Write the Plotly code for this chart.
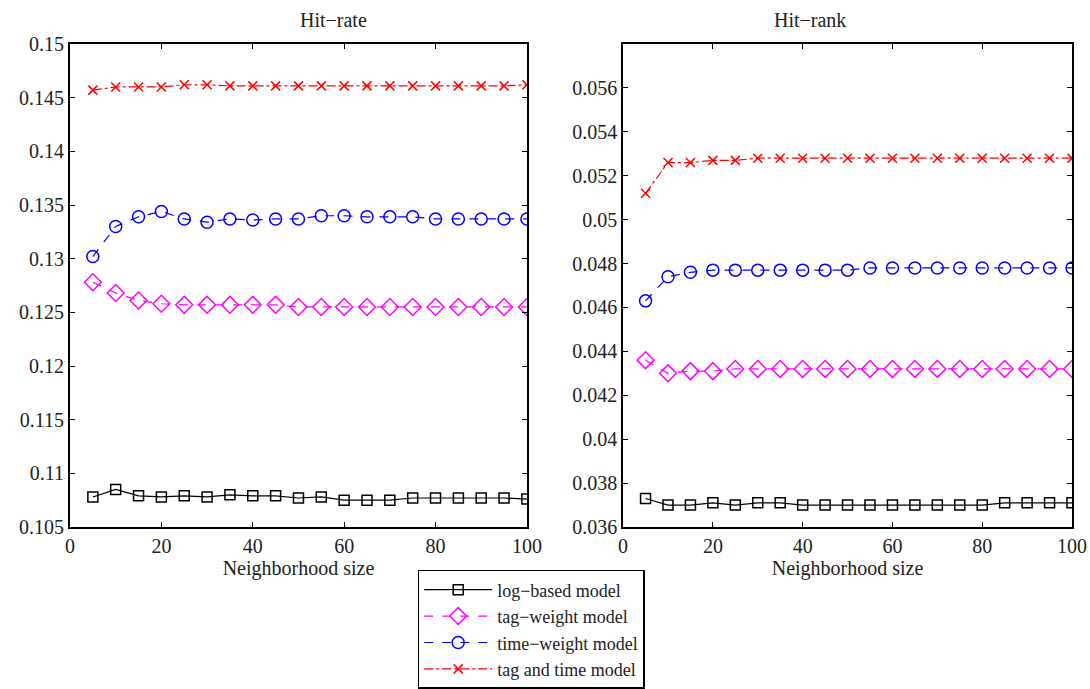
import plotly.graph_objects as go

x = [5, 10, 15, 20, 25, 30, 35, 40, 45, 50, 55, 60, 65, 70, 75, 80, 85, 90, 95, 100]

names = ["log\u2212based model", "tag\u2212weight model", "time\u2212weight model", "tag and time model"]

rate_log = [0.1078, 0.1085, 0.1079, 0.1078, 0.1079, 0.1078, 0.1080, 0.1079, 0.1079, 0.1077,
            0.1078, 0.1075, 0.1075, 0.1075, 0.1077, 0.1077, 0.1077, 0.1077, 0.1077, 0.1076]
rate_tag = [0.1278, 0.1268, 0.1261, 0.1258, 0.1257, 0.1257, 0.1257, 0.1257, 0.1257, 0.1255,
            0.1255, 0.1255, 0.1255, 0.1255, 0.1255, 0.1255, 0.1255, 0.1255, 0.1255, 0.1255]
rate_time = [0.1302, 0.1330, 0.1339, 0.1344, 0.1337, 0.1334, 0.1337, 0.1336, 0.1337, 0.1337,
             0.1340, 0.1340, 0.1339, 0.1339, 0.1339, 0.1337, 0.1337, 0.1337, 0.1337, 0.1337]
rate_both = [0.1457, 0.1460, 0.1460, 0.1460, 0.1462, 0.1462, 0.1461, 0.1461, 0.1461, 0.1461,
             0.1461, 0.1461, 0.1461, 0.1461, 0.1461, 0.1461, 0.1461, 0.1461, 0.1461, 0.1462]

rank_log = [0.0373, 0.0370, 0.0370, 0.0371, 0.0370, 0.0371, 0.0371, 0.0370, 0.0370, 0.0370,
            0.0370, 0.0370, 0.0370, 0.0370, 0.0370, 0.0370, 0.0371, 0.0371, 0.0371, 0.0371]
rank_tag = [0.0436, 0.0430, 0.0431, 0.0431, 0.0432, 0.0432, 0.0432, 0.0432, 0.0432, 0.0432,
            0.0432, 0.0432, 0.0432, 0.0432, 0.0432, 0.0432, 0.0432, 0.0432, 0.0432, 0.0432]
rank_time = [0.0463, 0.0474, 0.0476, 0.0477, 0.0477, 0.0477, 0.0477, 0.0477, 0.0477, 0.0477,
             0.0478, 0.0478, 0.0478, 0.0478, 0.0478, 0.0478, 0.0478, 0.0478, 0.0478, 0.0478]
rank_both = [0.0512, 0.0526, 0.0526, 0.0527, 0.0527, 0.0528, 0.0528, 0.0528, 0.0528, 0.0528,
             0.0528, 0.0528, 0.0528, 0.0528, 0.0528, 0.0528, 0.0528, 0.0528, 0.0528, 0.0528]

rate_ticks = [0.105, 0.11, 0.115, 0.12, 0.125, 0.13, 0.135, 0.14, 0.145, 0.15]
rate_ticktext = ["0.105", "0.11", "0.115", "0.12", "0.125", "0.13", "0.135", "0.14", "0.145", "0.15"]
rank_ticks = [0.036, 0.038, 0.040, 0.042, 0.044, 0.046, 0.048, 0.050, 0.052, 0.054, 0.056]
rank_ticktext = ["0.036", "0.038", "0.04", "0.042", "0.044", "0.046", "0.048", "0.05", "0.052", "0.054", "0.056"]
x_ticks = [0, 20, 40, 60, 80, 100]

styles = [
    dict(color="#000000", dash="solid", symbol="square-open", size=10),
    dict(color="#ff00ff", dash="dash", symbol="diamond-open", size=13),
    dict(color="#0000ff", dash="dash", symbol="circle-open", size=12),
    dict(color="#ff0000", dash="dashdot", symbol="x-thin-open", size=9),
]

FONT = "Liberation Serif, Times New Roman, serif"
TXT = "#222222"

fig = go.Figure()
rate_series = [rate_log, rate_tag, rate_time, rate_both]
rank_series = [rank_log, rank_tag, rank_time, rank_both]
for i, (ys, st) in enumerate(zip(rate_series, styles)):
    fig.add_trace(go.Scatter(
        x=x, y=ys, mode="lines+markers", name=names[i], xaxis="x", yaxis="y",
        line=dict(color=st["color"], dash=st["dash"], width=1.2),
        marker=dict(symbol=st["symbol"], size=st["size"], color=st["color"],
                    line=dict(color=st["color"], width=1.5)),
        showlegend=True))
for i, (ys, st) in enumerate(zip(rank_series, styles)):
    fig.add_trace(go.Scatter(
        x=x, y=ys, mode="lines+markers", name=names[i], xaxis="x2", yaxis="y2",
        line=dict(color=st["color"], dash=st["dash"], width=1.2),
        marker=dict(symbol=st["symbol"], size=st["size"], color=st["color"],
                    line=dict(color=st["color"], width=1.5)),
        showlegend=False))

axis_common = dict(showgrid=False, zeroline=False, showline=True, linecolor="black", linewidth=1.8,
                   mirror="ticks", ticks="inside", ticklen=5, tickcolor="black", tickwidth=1,
                   tickfont=dict(family=FONT, size=20, color=TXT))

fig.update_layout(
    width=1090, height=689,
    paper_bgcolor="white", plot_bgcolor="white",
    margin=dict(l=70, r=18, t=44, b=162, autoexpand=False),
    font=dict(family=FONT, size=20, color=TXT),
    xaxis=dict(domain=[0, 0.456], range=[0, 100], tickvals=x_ticks,
               title=dict(text="Neighborhood size", standoff=0, font=dict(family=FONT, size=20, color=TXT)),
               **axis_common),
    yaxis=dict(domain=[0, 1], range=[0.105, 0.15], tickvals=rate_ticks, ticktext=rate_ticktext,
               **axis_common),
    xaxis2=dict(domain=[0.552, 1], range=[0, 100], tickvals=x_ticks, anchor="y2",
                title=dict(text="Neighborhood size", standoff=0, font=dict(family=FONT, size=20, color=TXT)),
                **axis_common),
    yaxis2=dict(domain=[0, 1], range=[0.036, 0.058], tickvals=rank_ticks, ticktext=rank_ticktext,
                anchor="x2", **axis_common),
    legend=dict(x=0.347, y=-0.089, xanchor="left", yanchor="top",
                bordercolor="black", borderwidth=1.5, bgcolor="white", itemwidth=68,
                font=dict(family=FONT, size=18, color=TXT), tracegroupgap=0),
    annotations=[
        dict(text="Hit\u2212rate", x=0.2275, y=1.0, xref="paper", yref="paper", yanchor="bottom",
             yshift=11, showarrow=False, font=dict(family=FONT, size=20, color=TXT)),
        dict(text="Hit\u2212rank", x=0.776, y=1.0, xref="paper", yref="paper", yanchor="bottom",
             yshift=11, showarrow=False, font=dict(family=FONT, size=20, color=TXT)),
    ],
)

fig.write_html(
    "out.html",
    config={"displayModeBar": False},
    post_script="document.body.style.margin='0';document.body.style.overflow='hidden';",
)
